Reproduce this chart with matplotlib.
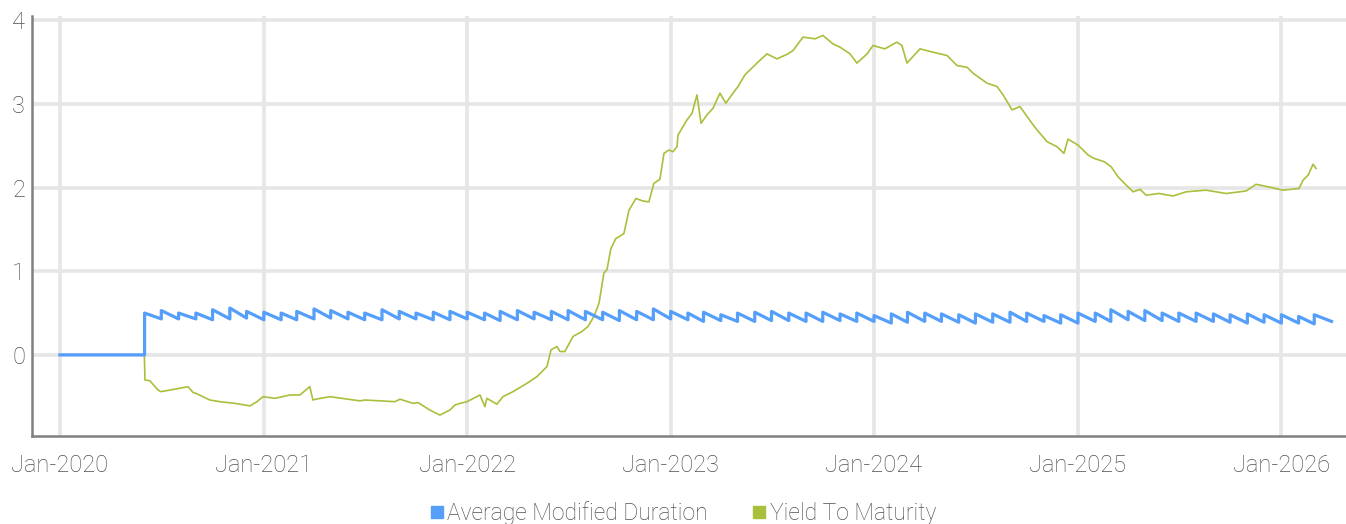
import numpy as np
import pandas as pd
import matplotlib
matplotlib.use("Agg")
import matplotlib.pyplot as plt
import matplotlib.dates as mdates
from matplotlib.lines import Line2D

# yield to maturity (decimal year, value)
yield_t = [2020.00, 2020.415, 2020.418, 2020.442, 2020.482, 2020.496, 2020.565, 2020.629,
           2020.654, 2020.668, 2020.737, 2020.786, 2020.860, 2020.934, 2020.968, 2020.998,
           2021.057, 2021.130, 2021.179, 2021.228, 2021.243, 2021.258, 2021.327, 2021.474,
           2021.499, 2021.646, 2021.671, 2021.735, 2021.759, 2021.818, 2021.867, 2021.916,
           2021.941, 2021.966, 2022.000, 2022.064, 2022.088, 2022.098, 2022.147, 2022.177,
           2022.226, 2022.295, 2022.344, 2022.393, 2022.413, 2022.442, 2022.457, 2022.481,
           2022.521, 2022.565, 2022.595, 2022.624, 2022.649, 2022.673, 2022.688, 2022.707,
           2022.731, 2022.771, 2022.796, 2022.830, 2022.865, 2022.894, 2022.918, 2022.948,
           2022.968, 2022.992, 2023.012, 2023.032, 2023.037, 2023.081, 2023.106, 2023.130,
           2023.150, 2023.179, 2023.209, 2023.243, 2023.272, 2023.307, 2023.332, 2023.366,
           2023.425, 2023.474, 2023.523, 2023.577, 2023.602, 2023.651, 2023.710, 2023.749,
           2023.798, 2023.833, 2023.882, 2023.916, 2023.966, 2023.995, 2024.053, 2024.112,
           2024.137, 2024.162, 2024.226, 2024.290, 2024.359, 2024.408, 2024.457, 2024.486,
           2024.555, 2024.604, 2024.634, 2024.678, 2024.717, 2024.776, 2024.801, 2024.850,
           2024.899, 2024.933, 2024.953, 2025.002, 2025.052, 2025.081, 2025.131, 2025.165,
           2025.199, 2025.239, 2025.273, 2025.307, 2025.337, 2025.400, 2025.469, 2025.533,
           2025.631, 2025.730, 2025.828, 2025.877, 2025.936, 2026.010, 2026.088, 2026.108,
           2026.133, 2026.157, 2026.172]
yield_v = [0.00, 0.00, -0.30, -0.31, -0.42, -0.44, -0.41, -0.38, -0.45, -0.46, -0.54, -0.56,
           -0.58, -0.61, -0.56, -0.50, -0.52, -0.48, -0.48, -0.38, -0.54, -0.53, -0.50, -0.55,
           -0.54, -0.56, -0.53, -0.58, -0.57, -0.66, -0.72, -0.66, -0.60, -0.58, -0.56, -0.48,
           -0.62, -0.52, -0.59, -0.50, -0.44, -0.34, -0.26, -0.14, 0.06, 0.10, 0.04, 0.04,
           0.22, 0.28, 0.34, 0.46, 0.62, 0.98, 1.02, 1.27, 1.39, 1.45, 1.73, 1.87, 1.84, 1.83,
           2.05, 2.10, 2.41, 2.45, 2.43, 2.49, 2.63, 2.81, 2.89, 3.11, 2.77, 2.87, 2.95, 3.13,
           3.01, 3.13, 3.21, 3.35, 3.49, 3.60, 3.54, 3.60, 3.64, 3.80, 3.78, 3.82, 3.72, 3.68,
           3.60, 3.49, 3.60, 3.70, 3.66, 3.74, 3.70, 3.49, 3.66, 3.62, 3.58, 3.46, 3.44, 3.37,
           3.25, 3.21, 3.11, 2.93, 2.97, 2.77, 2.69, 2.55, 2.49, 2.41, 2.58, 2.51, 2.39, 2.35,
           2.31, 2.25, 2.13, 2.03, 1.95, 1.98, 1.91, 1.93, 1.90, 1.95, 1.97, 1.93, 1.96, 2.04,
           2.01, 1.97, 1.99, 2.09, 2.15, 2.28, 2.23]

# average modified duration: monthly sawtooth, value at start and end of each month
dur_months = pd.date_range("2020-06-01", "2026-03-01", freq="MS")
dur_peak = [0.50, 0.53, 0.50, 0.50, 0.54, 0.56, 0.52,
            0.51, 0.50, 0.52, 0.55, 0.53, 0.51, 0.50, 0.54, 0.52, 0.50, 0.51, 0.52,
            0.51, 0.50, 0.52, 0.53, 0.51, 0.52, 0.53, 0.52, 0.51, 0.53, 0.52, 0.55,
            0.52, 0.50, 0.51, 0.48, 0.50, 0.51, 0.52, 0.50, 0.50, 0.51, 0.49, 0.50,
            0.47, 0.49, 0.51, 0.50, 0.49, 0.48, 0.49, 0.49, 0.51, 0.50, 0.47, 0.48,
            0.50, 0.50, 0.54, 0.52, 0.53, 0.50, 0.50, 0.50, 0.49, 0.48, 0.49, 0.48,
            0.48, 0.46, 0.48]
dur_trough = [0.43, 0.43, 0.43, 0.42, 0.43, 0.44, 0.42,
              0.42, 0.42, 0.43, 0.44, 0.43, 0.42, 0.42, 0.43, 0.43, 0.42, 0.42, 0.43,
              0.42, 0.41, 0.42, 0.43, 0.42, 0.42, 0.42, 0.42, 0.41, 0.42, 0.42, 0.43,
              0.42, 0.40, 0.41, 0.40, 0.40, 0.41, 0.41, 0.40, 0.40, 0.41, 0.40, 0.40,
              0.38, 0.39, 0.40, 0.40, 0.39, 0.38, 0.39, 0.39, 0.40, 0.40, 0.38, 0.38,
              0.40, 0.40, 0.42, 0.41, 0.41, 0.40, 0.40, 0.40, 0.39, 0.38, 0.39, 0.38,
              0.38, 0.37, 0.40]

tick_years = [2020, 2021, 2022, 2023, 2024, 2025, 2026]
y_ticks = [0, 1, 2, 3, 4]

BLUE = "#559ffb"
GREEN = "#a8c03b"
TXT = "#505050"


def year_to_date(t):
    return pd.Timestamp("2020-01-01") + pd.to_timedelta((np.asarray(t) - 2020) * 365.25, unit="D")


# build the sawtooth path from the month starts
dur_x = [pd.Timestamp("2020-01-01")]
dur_y = [0.0]
for i, m in enumerate(dur_months):
    end = m + pd.offsets.MonthBegin(1)
    dur_x += [m, m, end]
    dur_y += [dur_y[-1], dur_peak[i], dur_trough[i]]

plt.rcParams["font.family"] = ["Roboto", "DejaVu Sans"]
fig = plt.figure(figsize=(13.46, 5.24), dpi=100)
ax = fig.add_axes([0.0238, 0.168, 0.9762, 0.801])

ax.plot(year_to_date(yield_t), yield_v, color=GREEN, lw=1.2, zorder=3)
ax.plot(dur_x, dur_y, color=BLUE, lw=2.3, zorder=4)

ax.set_ylim(-0.97, 4.05)
ax.set_xlim(pd.Timestamp("2019-11-12"), pd.Timestamp("2026-04-27"))
ax.set_yticks(y_ticks)
ax.set_xticks([pd.Timestamp(f"{y}-01-01") for y in tick_years])
ax.xaxis.set_major_formatter(mdates.DateFormatter("%b-%Y"))

ax.grid(True, color="#e6e6e6", lw=2.6, zorder=0)
ax.set_axisbelow(True)
for s in ["top", "right"]:
    ax.spines[s].set_visible(False)
for s in ["left", "bottom"]:
    ax.spines[s].set_color("#808080")
    ax.spines[s].set_linewidth(1.8)

ax.tick_params(axis="both", length=0, labelsize=17, labelcolor=TXT)
ax.tick_params(axis="x", pad=13)
ax.tick_params(axis="y", pad=5)
for lab in ax.get_xticklabels() + ax.get_yticklabels():
    lab.set_fontweight("light")

handles = [Line2D([], [], marker="s", ls="", color=BLUE, markersize=8),
           Line2D([], [], marker="s", ls="", color=GREEN, markersize=8)]
leg = fig.legend(handles, ["Average Modified Duration", "Yield To Maturity"],
                 loc="center", bbox_to_anchor=(0.507, 0.02), ncol=2, frameon=False,
                 fontsize=16.5, handletextpad=0.1, columnspacing=1.9, handlelength=0.7)
for t in leg.get_texts():
    t.set_color(TXT)
    t.set_fontweight("light")

fig.savefig("out.png", dpi=100)
